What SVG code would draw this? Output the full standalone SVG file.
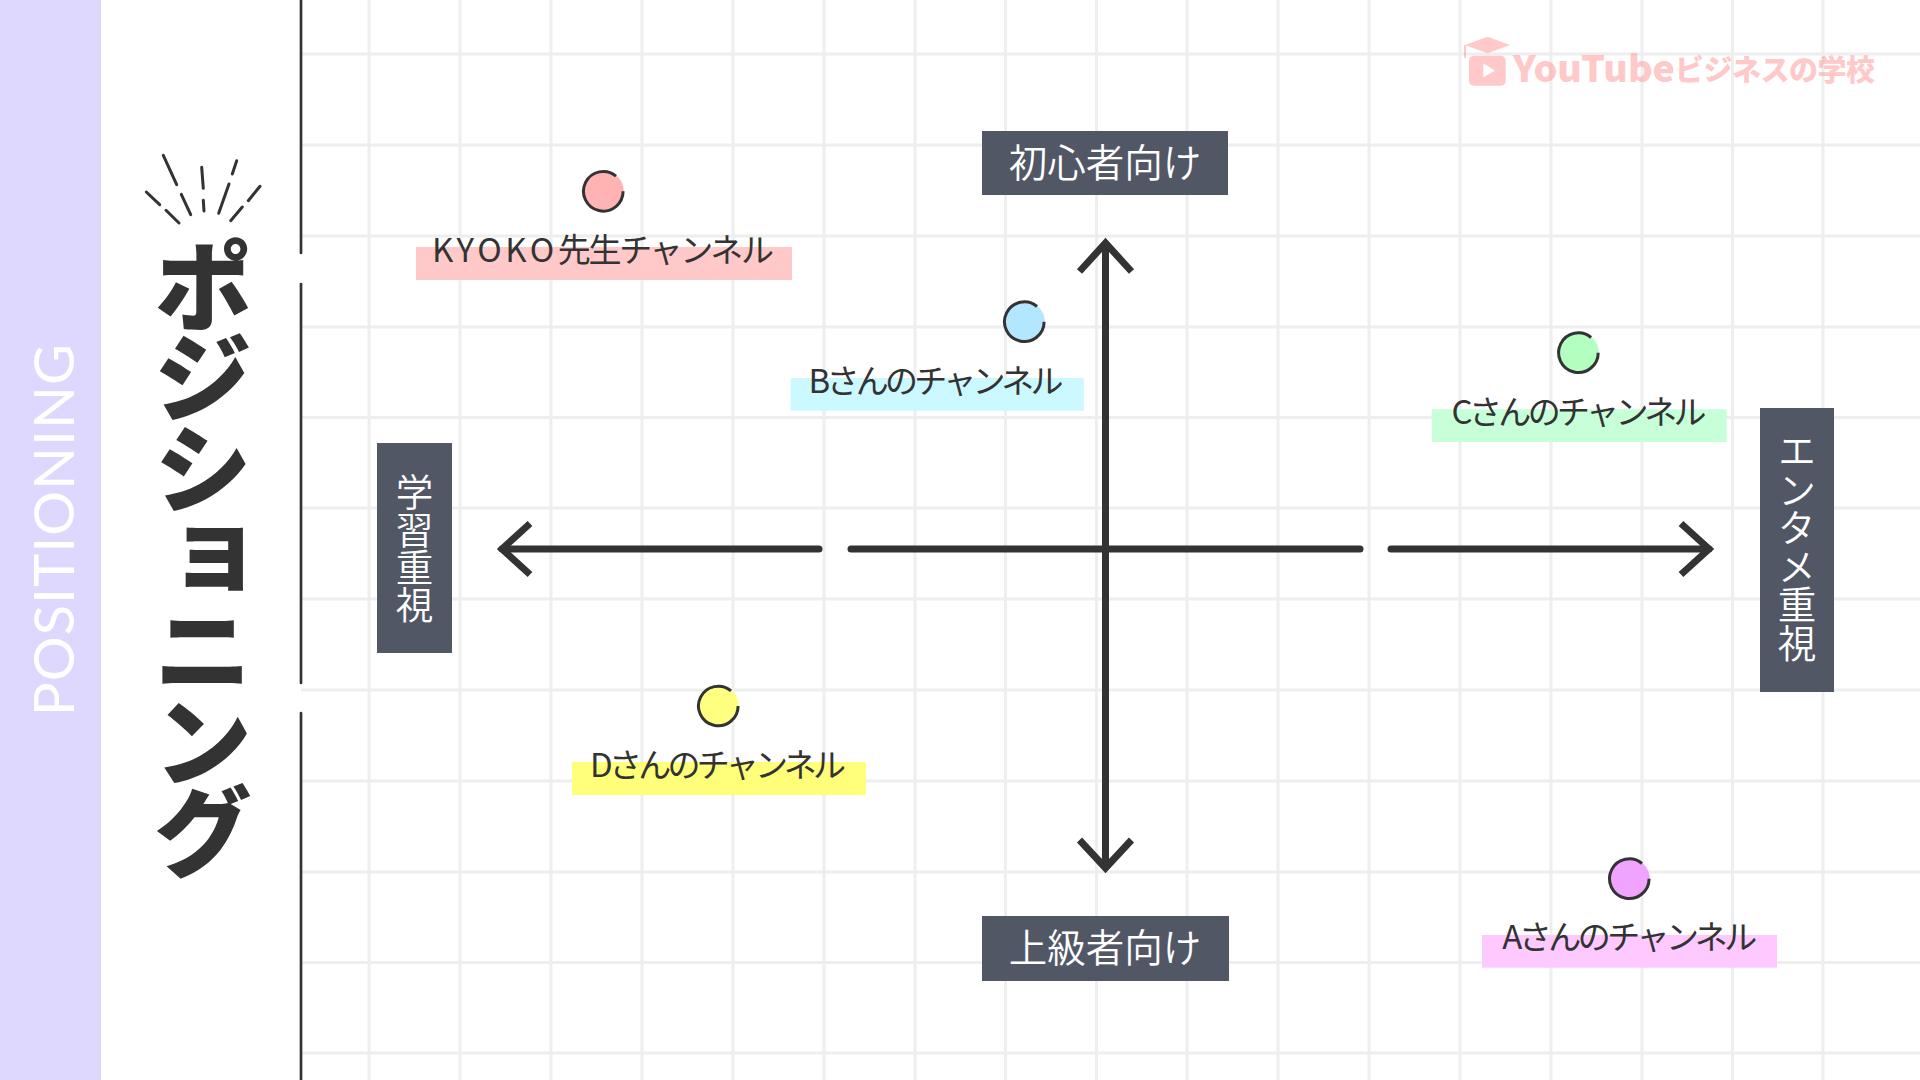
<svg xmlns="http://www.w3.org/2000/svg" width="1920" height="1080" viewBox="0 0 1920 1080">
<style>
text{font-family:"Noto Sans CJK JP","Noto Sans",sans-serif}
.grid line{stroke:#eeeeee;stroke-width:3}
.rule{stroke:#333;stroke-width:2.7;stroke-linecap:round;fill:none}
.spark{stroke:#333;stroke-width:3;stroke-linecap:round;fill:none}
.axis{stroke:#333;stroke-width:7;fill:none;stroke-miterlimit:10}
.round{stroke-linecap:round}
.box{fill:#525766}
.boxt{fill:#fff;font-size:38.5px;text-anchor:middle;font-weight:350}
.vt{writing-mode:vertical-rl}
.lbl{fill:#333;font-size:33px;text-anchor:middle}
.ring{fill:none;stroke:#333;stroke-width:3}
</style>
<rect width="1920" height="1080" fill="#fff"/>
<g class="grid">
<line x1="369" y1="0" x2="369" y2="1080"/><line x1="460" y1="0" x2="460" y2="1080"/><line x1="551" y1="0" x2="551" y2="1080"/><line x1="642" y1="0" x2="642" y2="1080"/><line x1="733" y1="0" x2="733" y2="1080"/><line x1="824" y1="0" x2="824" y2="1080"/><line x1="915" y1="0" x2="915" y2="1080"/><line x1="1005.5" y1="0" x2="1005.5" y2="1080"/><line x1="1096.5" y1="0" x2="1096.5" y2="1080"/><line x1="1187" y1="0" x2="1187" y2="1080"/><line x1="1278" y1="0" x2="1278" y2="1080"/><line x1="1369" y1="0" x2="1369" y2="1080"/><line x1="1460" y1="0" x2="1460" y2="1080"/><line x1="1551" y1="0" x2="1551" y2="1080"/><line x1="1642" y1="0" x2="1642" y2="1080"/><line x1="1732.5" y1="0" x2="1732.5" y2="1080"/><line x1="1823" y1="0" x2="1823" y2="1080"/>
<line x1="301" y1="54" x2="1920" y2="54"/><line x1="301" y1="145" x2="1920" y2="145"/><line x1="301" y1="236" x2="1920" y2="236"/><line x1="301" y1="327" x2="1920" y2="327"/><line x1="301" y1="417.5" x2="1920" y2="417.5"/><line x1="301" y1="508" x2="1920" y2="508"/><line x1="301" y1="599" x2="1920" y2="599"/><line x1="301" y1="690" x2="1920" y2="690"/><line x1="301" y1="781" x2="1920" y2="781"/><line x1="301" y1="872" x2="1920" y2="872"/><line x1="301" y1="962.5" x2="1920" y2="962.5"/><line x1="301" y1="1053" x2="1920" y2="1053"/>
</g>
<rect id="band" x="0" y="0" width="101" height="1080" fill="#ded8ff"/>
<text id="band-label" transform="translate(74,716) rotate(-90)" font-size="56" fill="#fff" textLength="372" lengthAdjust="spacing" style="font-family:Lato,sans-serif;font-weight:400">POSITIONING</text>
<g id="rules" class="rule">
<line x1="301" y1="0" x2="301" y2="253"/><line x1="301" y1="284" x2="301" y2="683"/><line x1="301" y1="713" x2="301" y2="1080"/>
</g>
<g id="title">
<g class="spark">
<line x1="163.3" y1="155.3" x2="176.7" y2="184.7"/><line x1="181.3" y1="194.3" x2="190.7" y2="214.7"/><line x1="201.7" y1="167.3" x2="203.3" y2="188.3"/><line x1="203.3" y1="200.3" x2="204" y2="211"/><line x1="236.7" y1="160.7" x2="232.3" y2="174"/><line x1="229" y1="184" x2="218.7" y2="213.3"/><line x1="260" y1="186.3" x2="248.3" y2="200.7"/><line x1="242.3" y1="207" x2="230.7" y2="220.7"/><line x1="146.3" y1="192" x2="159.7" y2="204.7"/><line x1="166" y1="210.3" x2="179" y2="223"/>
</g>
<text class="vt" x="203" y="236" font-size="100" font-weight="900" fill="#333" letter-spacing="-9">ポジショニング</text>
</g>
<g id="connectors">
<path class="axis" d="M1105.5 243V868"/>
<path class="axis" d="M1079.5 271.5L1105.5 243L1131.5 271.5"/>
<path class="axis" d="M1079.5 840L1105.5 868L1131.5 840"/>
<path class="axis round" d="M502 549H819"/>
<path class="axis" d="M530 523.5L502 549L530 574.5"/>
<path class="axis round" d="M851 549H1360"/>
<path class="axis round" d="M1391 549H1709"/>
<path class="axis" d="M1681 523.5L1709 549L1681 574.5"/>
</g>
<g id="node-beginner"><rect class="box" x="982" y="131" width="246" height="64"/><text class="boxt" x="1105" y="177">初心者向け</text></g>
<g id="node-advanced"><rect class="box" x="982" y="916" width="247" height="65"/><text class="boxt" x="1105" y="962">上級者向け</text></g>
<g id="node-learning"><rect class="box" x="377" y="443" width="75" height="210"/><text class="boxt vt" x="414.5" y="548" style="font-size:37.5px">学習重視</text></g>
<g id="node-entertainment"><rect class="box" x="1760" y="408" width="74" height="284"/><text class="boxt vt" x="1797" y="547">エンタメ重視</text></g>
<g id="node-kyoko"><circle cx="603.3" cy="191.3" r="20.5" fill="#ffb3b3"/><path class="ring" d="M623.1 191.3A19.8 19.8 0 1 1 616 176.1"/><rect x="416" y="247" width="376" height="33" fill="#ffc9c9"/><text class="lbl" x="432" y="262" style="text-anchor:start"><tspan letter-spacing="3.7">KYOKO</tspan><tspan letter-spacing="-2.3">先生チャンネル</tspan></text></g>
<g id="node-b"><circle cx="1024.3" cy="321.7" r="20.5" fill="#b3e6ff"/><path class="ring" d="M1044.1 321.7A19.8 19.8 0 1 1 1037 306.5"/><rect x="790.7" y="378" width="293" height="32.7" fill="#ccf8ff"/><text class="lbl" x="936" y="392.7" textLength="255" lengthAdjust="spacing">Bさんのチャンネル</text></g>
<g id="node-c"><circle cx="1578.4" cy="352.7" r="20.5" fill="#b3ffc0"/><path class="ring" d="M1598.2 352.7A19.8 19.8 0 1 1 1591.1 337.5"/><rect x="1432" y="409.3" width="294.7" height="32.7" fill="#c7ffd8"/><text class="lbl" x="1579" y="424" textLength="255" lengthAdjust="spacing">Cさんのチャンネル</text></g>
<g id="node-d"><circle cx="718.3" cy="706" r="20.5" fill="#ffff80"/><path class="ring" d="M738.1 706A19.8 19.8 0 1 1 731 690.8"/><rect x="572" y="762" width="294" height="33" fill="#ffff7a"/><text class="lbl" x="718" y="777" textLength="256" lengthAdjust="spacing">Dさんのチャンネル</text></g>
<g id="node-a"><circle cx="1629.3" cy="878.7" r="20.5" fill="#f0a3ff"/><path class="ring" d="M1649.1 878.7A19.8 19.8 0 1 1 1642 863.5"/><rect x="1482" y="935" width="295" height="32.7" fill="#fdc9ff"/><text class="lbl" x="1629.7" y="949.3" textLength="255" lengthAdjust="spacing">Aさんのチャンネル</text></g>
<g id="logo" opacity="0.55" fill="#ff9e9e">
<path d="M1465 45L1487.7 36.7L1510 45L1487.7 53.3Z"/>
<path d="M1464 45H1466V58H1464Z"/>
<rect x="1469" y="55.7" width="36.7" height="30" rx="5"/>
<path d="M1483.3 63.3L1495 70.7L1483.3 77.3Z" fill="#fff"/>
<text x="1513" y="81.5" font-size="36" font-weight="900" textLength="162" lengthAdjust="spacingAndGlyphs">YouTube</text>
<text x="1675" y="80.5" font-size="29" font-weight="900" textLength="200" lengthAdjust="spacing">ビジネスの学校</text>
</g>
</svg>
